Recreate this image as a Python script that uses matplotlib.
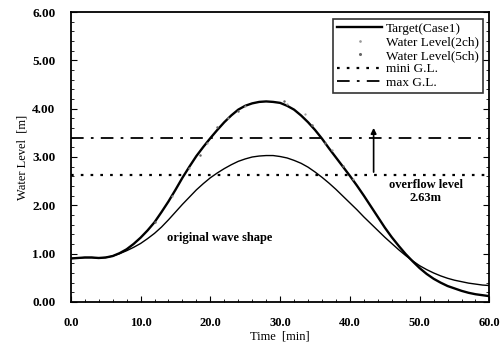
import numpy as np
import matplotlib.pyplot as plt
from matplotlib.ticker import MultipleLocator, FormatStrFormatter

plt.rcParams['font.family'] = ['Liberation Serif', 'DejaVu Serif']

# time axis [min]
time = list(range(0, 61))

# target wave (Case1)
target = [0.90, 0.91, 0.92, 0.92, 0.91, 0.92, 0.95, 1.01, 1.09, 1.20,
          1.33, 1.48, 1.65, 1.86, 2.08, 2.32, 2.57, 2.80, 3.02, 3.21,
          3.39, 3.56, 3.72, 3.86, 3.98, 4.06, 4.11, 4.14, 4.15, 4.14,
          4.12, 4.06, 3.98, 3.86, 3.72, 3.56, 3.38, 3.18, 2.99, 2.80,
          2.61, 2.41, 2.20, 1.98, 1.76, 1.54, 1.34, 1.16, 0.99, 0.84,
          0.70, 0.58, 0.48, 0.40, 0.33, 0.28, 0.23, 0.19, 0.16, 0.14,
          0.12]

# original wave shape
original = [0.90, 0.91, 0.92, 0.92, 0.91, 0.92, 0.95, 1.00, 1.06, 1.13,
            1.21, 1.31, 1.42, 1.55, 1.70, 1.86, 2.02, 2.17, 2.32, 2.45,
            2.57, 2.67, 2.76, 2.84, 2.91, 2.96, 3.00, 3.02, 3.03, 3.03,
            3.01, 2.98, 2.93, 2.87, 2.79, 2.69, 2.58, 2.46, 2.33, 2.19,
            2.05, 1.91, 1.76, 1.62, 1.48, 1.34, 1.21, 1.08, 0.96, 0.85,
            0.75, 0.67, 0.60, 0.54, 0.49, 0.45, 0.42, 0.39, 0.37, 0.35,
            0.34]

# measured water level, gauges 2ch and 5ch
t_2ch = [14.5, 17.0, 19.5, 22.5, 25.0, 31.0, 33.5, 37.5, 40.5]
wl_2ch = [2.20, 2.78, 3.30, 3.80, 4.06, 4.10, 3.88, 3.15, 2.55]
t_5ch = [12.0, 18.5, 21.0, 24.0, 30.5, 34.5, 36.5, 39.0]
wl_5ch = [1.66, 3.05, 3.62, 3.96, 4.16, 3.66, 3.30, 2.82]

mini_gl = 2.63
max_gl = 3.40

fig = plt.figure(figsize=(5.02, 3.54), dpi=100)
ax = fig.add_axes([0.141, 0.147, 0.834, 0.819])

ax.plot(time, target, color='black', lw=1.7, label='Target(Case1)')
ax.plot(t_2ch, wl_2ch, color='#999999', lw=0, marker='.', ms=1.2,
        label='Water Level(2ch)')
ax.plot(t_5ch, wl_5ch, color='#666666', lw=0, marker='.', ms=1.6,
        label='Water Level(5ch)')
ax.axhline(mini_gl, color='black', lw=1.6, ls=(0, (1.2, 3.2)),
           label='mini G.L.')
ax.axhline(max_gl, color='black', lw=1.3, ls=(0, (7, 4, 1.5, 4)),
           label='max G.L.')
ax.plot(time, original, color='black', lw=1.0)

ax.annotate('', xy=(43.4, 3.66), xytext=(43.4, mini_gl),
            arrowprops=dict(arrowstyle='-|>', color='black', lw=1.2,
                            mutation_scale=8))
ax.text(50.9, 2.29, 'overflow level\n2.63m', ha='center', va='center',
        fontsize=9, fontweight='bold', linespacing=1.1)
ax.text(21.4, 1.32, 'original wave shape', ha='center', va='center',
        fontsize=9, fontweight='bold')

ax.set_xlim(0, 60)
ax.set_ylim(0, 6)
ax.xaxis.set_major_locator(MultipleLocator(10))
ax.xaxis.set_minor_locator(MultipleLocator(2))
ax.yaxis.set_major_locator(MultipleLocator(1))
ax.yaxis.set_minor_locator(MultipleLocator(0.2))
ax.xaxis.set_major_formatter(FormatStrFormatter('%.1f'))
ax.yaxis.set_major_formatter(FormatStrFormatter('%.2f'))
ax.tick_params(which='both', direction='in', right=True, top=False)
ax.tick_params(axis='x', labelsize=9)
ax.tick_params(axis='y', labelsize=9.5)
ax.tick_params(which='major', length=4, pad=11)
ax.tick_params(which='minor', length=2)
for lbl in ax.get_xticklabels() + ax.get_yticklabels():
    lbl.set_fontweight('bold')
for sp in ax.spines.values():
    sp.set_linewidth(1.3)

ax.set_xlabel('Time  [min]', fontsize=9, labelpad=1)
ax.set_ylabel('Water Level  [m]', fontsize=9, labelpad=3)

leg = ax.legend(loc='upper right', fontsize=9.5, frameon=True, fancybox=False,
                edgecolor='black', handlelength=3.4, handletextpad=0.3,
                borderpad=0.3, labelspacing=0.1, borderaxespad=0.5,
                markerscale=1.5)
leg.get_frame().set_linewidth(1.2)

fig.savefig('out.png', dpi=100)
